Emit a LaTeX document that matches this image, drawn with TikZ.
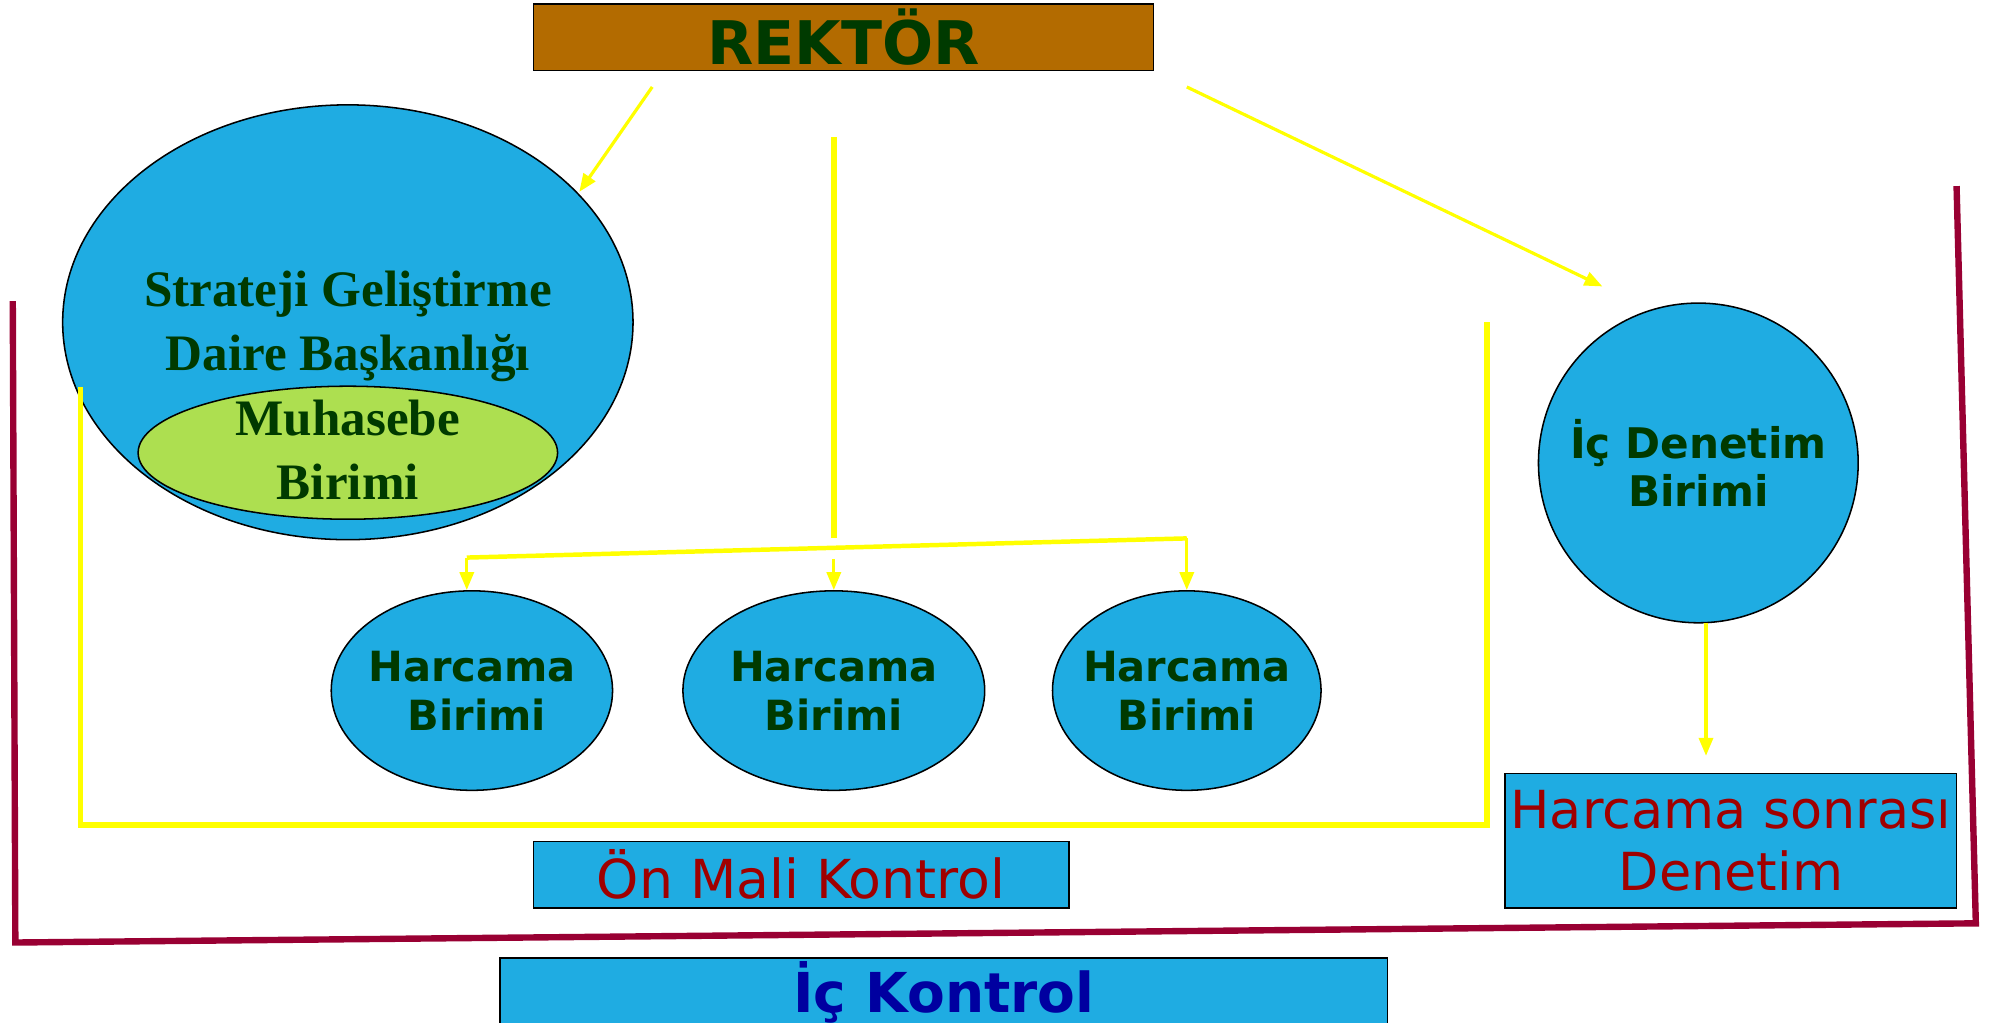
\documentclass[tikz,border=0pt]{standalone}
\usepackage{fontspec}
\setmainfont{Liberation Serif}
\setsansfont{DejaVu Sans}
\usetikzlibrary{shapes.geometric,arrows.meta}
\definecolor{boxblue}{HTML}{1FACE2}
\definecolor{rekbrown}{HTML}{B36B00}
\definecolor{dgreen}{HTML}{003A00}
\definecolor{lgreen}{HTML}{ADDF50}
\definecolor{dred}{HTML}{A00000}
\definecolor{dblue}{HTML}{0000A0}
\definecolor{maroon}{HTML}{990033}
\definecolor{yel}{HTML}{FFFF00}
\begin{document}
\begin{tikzpicture}[x=1pt,y=-1pt,
  ell/.style={ellipse,draw=black,line width=1.2pt,fill=boxblue,inner sep=0pt},
  lbl/.style={inner sep=0pt,align=center,text=dgreen},
  rbox/.style={rectangle,draw=black,line width=1.2pt,fill=boxblue,inner sep=0pt,align=center},
  hfont/.style={font=\sffamily\bfseries\fontsize{32.5}{38}\selectfont},
  sfont/.style={font=\rmfamily\bfseries\fontsize{40}{50}\selectfont},
  yarr/.style={draw=yel,line width=2.5pt,-{Triangle[length=14pt,width=11pt]}},
  yline/.style={draw=yel,line width=4.5pt},
  mline/.style={draw=maroon,line width=5pt,line cap=rect}]
\useasboundingbox (0,0) rectangle (1560,799.2);
% nodes
\node[rbox,fill=rekbrown,minimum width=485pt,minimum height=52pt,text=dgreen,font=\sffamily\bfseries\fontsize{47}{50}\selectfont] (rek) at (659.5,29) {REKTÖR};
\node[ell,minimum width=446pt,minimum height=340pt] (sg) at (272,252) {};
\node[lbl,sfont] (sgt) at (272,255) {Strateji Geliştirme\\Daire Başkanlığı};
\node[ell,fill=lgreen,minimum width=328pt,minimum height=104pt] (mu) at (272,354) {};
\node[lbl,sfont] (mut) at (272,352) {Muhasebe\\Birimi};
\node[ell,minimum width=220pt,minimum height=156pt] (h1) at (369,540) {};
\node[ell,minimum width=236pt,minimum height=156pt] (h2) at (652,540) {};
\node[ell,minimum width=210pt,minimum height=156pt] (h3) at (928,540) {};
\node[lbl,hfont] (h1t) at (h1.center) {Harcama\\\hspace*{8pt}Birimi};
\node[lbl,hfont] (h2t) at (h2.center) {Harcama\\Birimi};
\node[lbl,hfont] (h3t) at (h3.center) {Harcama\\Birimi};
\node[ell,minimum width=250pt,minimum height=250pt] (id) at (1328,362) {};
\node[lbl,font=\sffamily\bfseries\fontsize{33}{38}\selectfont] (idt) at (id.center) {İç Denetim\\Birimi};
\node[rbox,minimum width=353pt,minimum height=105pt,text=dred,font=\sffamily\fontsize{41}{48}\selectfont] (hs) at (1353.5,657.5) {Harcama sonrası\\Denetim};
\node[rbox,minimum width=419pt,minimum height=52pt,text=dred,font=\sffamily\fontsize{42}{48}\selectfont] (om) at (626.5,684) {Ön Mali Kontrol};
\node[rbox,minimum width=694pt,minimum height=54pt,text=dblue,font=\sffamily\bfseries\fontsize{43}{48}\selectfont] (ik) at (738,776) {İç Kontrol};
% coordinates
\coordinate (r1) at (510,68);
\coordinate (s1) at (453,150);
\coordinate (r2) at (928,68);
\coordinate (d1) at (1253,224);
\coordinate (v1) at (652,107);
\coordinate (v2) at (652,421);
\coordinate (l1) at (365,436);
\coordinate (l2) at (928,421);
\coordinate (m1) at (652,437);
\coordinate (a1) at (63,303);
\coordinate (a2) at (63,645);
\coordinate (a3) at (1163,645);
\coordinate (a4) at (1163,252);
\coordinate (e1) at (1334,487);
\coordinate (e2) at (1334,591);
\coordinate (k1) at (10,238);
\coordinate (k2) at (12,737);
\coordinate (k3) at (1545,722);
\coordinate (k4) at (1530,148);
% connectors
\draw[yarr] (r1) -- (s1);
\draw[yarr] (r2) -- (d1);
\draw[yline] (v1) -- (v2);
\draw[draw=yel,line width=3.5pt] (l1) -- (l2);
\draw[yarr] (l1) -- (h1.north -| l1);
\draw[yarr] (m1) -- (h2.north);
\draw[yarr] (l2) -- (h3.north);
\draw[yline] (a1) -- (a2) -- (a3) -- (a4);
\draw[yarr] (e1) -- (e2);
\draw[mline] (k1) -- (k2) -- (k3) -- (k4);
\end{tikzpicture}
\end{document}
